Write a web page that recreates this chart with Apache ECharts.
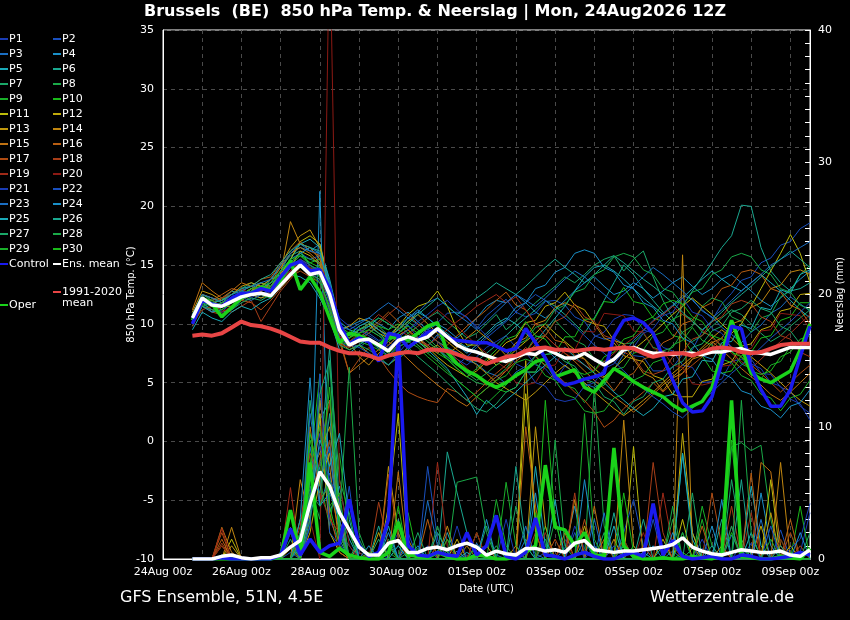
<!DOCTYPE html>
<html><head><meta charset="utf-8">
<script src="https://cdn.jsdelivr.net/npm/echarts@6/dist/echarts.min.js"></script>
<style>html,body{margin:0;padding:0;background:#000;overflow:hidden;}#c{width:850px;height:620px;}</style>
</head><body><div id="c"></div>
<script>
// time steps of the data (6-hourly)
const times = ['24Aug 18z',
'25Aug 00z','25Aug 06z','25Aug 12z','25Aug 18z','26Aug 00z','26Aug 06z','26Aug 12z','26Aug 18z',
'27Aug 00z','27Aug 06z','27Aug 12z','27Aug 18z','28Aug 00z','28Aug 06z','28Aug 12z','28Aug 18z',
'29Aug 00z','29Aug 06z','29Aug 12z','29Aug 18z','30Aug 00z','30Aug 06z','30Aug 12z','30Aug 18z',
'31Aug 00z','31Aug 06z','31Aug 12z','31Aug 18z','01Sep 00z','01Sep 06z','01Sep 12z','01Sep 18z',
'02Sep 00z','02Sep 06z','02Sep 12z','02Sep 18z','03Sep 00z','03Sep 06z','03Sep 12z','03Sep 18z',
'04Sep 00z','04Sep 06z','04Sep 12z','04Sep 18z','05Sep 00z','05Sep 06z','05Sep 12z','05Sep 18z',
'06Sep 00z','06Sep 06z','06Sep 12z','06Sep 18z','07Sep 00z','07Sep 06z','07Sep 12z','07Sep 18z',
'08Sep 00z','08Sep 06z','08Sep 12z','08Sep 18z','09Sep 00z','09Sep 06z','09Sep 12z'];
const leadCats = ['24Aug 00z','24Aug 06z','24Aug 12z'];
const axisCats = leadCats.concat(times);

const memberNames = ['P1','P2','P3','P4','P5','P6','P7','P8','P9','P10','P11','P12','P13','P14','P15','P16','P17','P18','P19','P20','P21','P22','P23','P24','P25','P26','P27','P28','P29','P30'];
const memberColors = ['#1a3cb4','#1a50be','#1a6ec2','#1a90c8','#1aaab8','#1aa890','#1aa868','#1aaa48','#1ab02a','#1aba1a',
'#bcbc0a','#c0aa0a','#c0980e','#c08610','#c07212','#b85e12','#b04c12','#a83e18','#a02a18','#8c1a14',
'#1a3cb4','#1a50be','#1a6ec2','#1a90c8','#1aaab8','#1aa890','#1aa868','#1aaa48','#1ab02a','#1aba1a'];

// 850 hPa temperature (°C)
const tP1=[10.2,12.0,11.5,11.0,11.8,12.5,12.2,12.8,13.0,13.5,14.5,15.5,14.8,13.5,11.0,8.5,
8.0,8.8,9.5,9.0,8.2,9.0,9.5,10.0,9.2,8.5,7.5,7.0,6.5,7.2,8.0,8.5,
9.0,8.0,7.6,6.5,6.2,5.2,6.4,7.3,7.5,8.9,9.3,10.4,10.8,10.7,9.5,9.2,
8.0,7.7,6.5,6.3,5.0,5.1,5.3,6.8,7.0,7.0,5.8,5.7,4.6,4.3,3.0,2.4];
const tP2=[10.8,12.5,12.2,12.0,12.5,13.0,13.2,13.0,13.5,14.0,15.2,16.0,15.5,15.8,13.0,9.8,
9.0,9.5,9.2,8.6,8.7,9.2,9.9,8.8,9.6,10.1,10.9,11.0,10.6,9.6,10.7,11.4,
12.1,11.0,10.6,10.9,11.9,12.0,11.6,10.6,10.2,9.0,8.7,8.8,8.3,7.3,7.2,6.0,
6.0,6.3,7.4,7.8,9.4,10.3,11.7,12.6,13.7,14.0,15.2,15.6,16.7,17.0,18.1,18.6];
const tP3=[9.8,11.5,11.2,11.0,11.2,12.0,12.5,12.2,12.8,13.5,14.8,15.2,14.5,15.0,12.2,9.0,
8.5,8.0,8.6,7.9,7.3,8.1,8.4,8.9,8.1,9.1,7.9,7.6,6.9,6.6,5.9,5.6,
4.9,5.9,6.4,7.3,7.9,7.1,6.4,5.9,4.9,4.6,5.1,6.1,7.4,8.6,9.4,10.3,
10.9,11.6,12.4,12.1,11.1,10.6,9.7,9.1,8.4,9.3,9.9,10.9,11.4,12.3,11.7,11.1];
const tP4=[10.0,11.8,11.0,11.5,12.0,12.2,13.0,13.5,13.2,14.5,16.0,16.5,16.2,16.8,13.5,9.5,
9.8,10.2,10.5,10.0,9.5,10.5,11.0,10.2,9.5,10.0,9.5,8.8,9.5,10.5,11.5,12.0,
11.8,12.5,11.8,11.0,10.5,11.2,12.0,12.8,13.5,14.0,13.2,12.5,12.8,13.5,13.0,12.2,
12.8,13.5,14.0,13.2,12.5,13.0,13.8,14.2,13.5,12.8,12.0,11.5,12.2,13.0,13.8,14.5];
const tP5=[10.5,12.2,11.8,12.0,12.8,12.5,13.0,12.8,13.8,14.2,15.5,16.8,17.2,16.5,13.8,10.2,
9.5,9.2,9.8,10.5,10.0,9.5,10.2,11.0,10.5,9.8,9.2,8.5,8.0,8.5,9.2,10.0,
10.5,10.0,9.2,8.5,9.5,10.5,11.5,12.8,14.0,14.8,15.0,14.5,13.8,13.0,12.2,11.5,
10.8,11.5,12.2,13.0,13.8,14.5,13.8,13.2,12.8,13.5,14.2,13.5,12.8,12.0,11.2,10.5];
const tP6=[10.2,11.8,11.2,11.5,12.0,12.8,12.5,13.2,13.8,14.8,15.8,16.2,15.0,14.0,11.8,9.2,
8.8,9.5,10.0,9.5,9.0,9.8,10.5,10.0,9.2,8.5,8.0,7.5,7.0,6.8,7.5,8.2,
9.0,9.8,10.5,11.2,12.0,11.5,10.8,10.0,9.2,10.5,12.0,13.5,15.0,14.2,13.0,12.0,
11.0,10.2,11.5,12.8,14.0,15.2,16.5,17.5,20.1,20.0,16.5,14.5,13.5,12.8,13.0,13.5];
const tP7=[10.8,12.5,12.0,12.2,12.5,13.0,13.5,13.2,13.0,14.0,15.0,15.8,15.5,15.2,12.5,9.0,
8.2,8.8,9.2,9.8,9.0,8.5,9.2,9.8,10.5,11.0,10.2,9.5,8.8,9.2,10.0,10.8,
9.5,10.2,11.0,11.8,12.5,13.2,14.0,13.5,14.2,15.0,15.5,15.8,14.5,15.5,16.2,14.0,
12.0,10.5,9.2,8.5,9.0,9.8,10.5,11.2,10.8,10.0,9.2,8.5,9.0,9.8,10.5,11.2];
const tP8=[10.0,11.5,11.8,12.2,11.8,12.2,12.8,12.5,12.2,13.2,14.2,15.0,14.2,14.8,12.8,9.5,
8.5,9.0,8.8,8.2,7.8,8.5,9.0,8.2,7.5,8.0,7.0,6.2,5.5,5.0,4.8,5.5,
6.2,7.3,7.6,8.9,9.0,10.3,9.4,8.6,8.2,7.0,6.8,7.0,8.3,8.4,9.2,8.0,
7.7,8.0,9.3,9.8,11.5,12.2,11.9,10.6,10.2,9.3,10.5,10.8,12.3,12.8,14.2,15.0];
const tP9=[10.5,12.0,11.5,11.2,11.8,12.5,12.0,12.5,12.8,13.0,14.0,14.8,14.5,14.0,12.0,8.8,
8.0,8.5,8.2,7.8,7.2,8.0,8.5,8.0,7.2,6.5,5.8,5.2,4.5,3.8,3.2,4.0,
4.8,5.8,6.0,7.3,6.4,5.9,4.8,4.5,3.3,4.4,4.8,6.1,6.3,7.5,7.8,9.0,
9.3,10.4,10.8,10.4,9.3,9.0,8.0,7.7,6.6,6.2,5.3,6.5,6.8,8.1,8.3,9.2];
const tP10=[10.8,12.2,11.8,11.5,12.2,12.8,13.2,13.5,13.2,14.5,15.2,16.0,15.2,15.5,13.2,9.8,
9.2,9.8,10.2,9.8,9.5,10.0,9.2,8.5,8.0,7.5,7.0,6.5,6.0,5.5,5.0,4.5,
4.2,4.6,5.9,5.9,7.4,7.5,8.9,8.9,10.4,10.4,11.9,11.8,13.1,11.9,11.7,10.5,
10.2,9.0,8.8,7.6,7.3,6.0,5.8,6.0,7.3,7.6,8.8,9.0,10.3,10.6,11.8,11.8];
const tP11=[10.5,12.5,12.2,11.8,12.2,12.5,13.0,12.8,13.2,14.2,15.5,17.0,17.5,16.8,13.0,9.2,
8.8,9.5,10.0,9.2,8.8,9.8,10.8,11.5,11.8,12.8,11.5,9.5,8.2,8.2,7.2,6.5,
7.0,7.8,8.5,9.2,10.0,9.2,8.5,7.8,7.0,6.2,5.5,6.2,7.0,7.8,8.5,9.2,
10.0,10.8,11.5,12.2,11.5,10.8,10.0,9.2,10.0,11.5,13.0,14.5,16.0,17.6,16.0,13.5];
const tP12=[10.0,11.8,12.0,11.5,11.5,12.0,12.5,12.2,12.5,13.8,14.8,16.2,15.8,15.0,12.0,8.5,
7.8,8.2,7.5,7.0,6.5,7.2,8.0,8.8,8.0,7.2,6.5,6.0,5.5,6.0,6.8,7.5,
8.4,8.8,10.1,10.3,11.5,11.8,12.7,11.6,11.2,10.0,9.8,8.6,8.3,7.0,6.8,5.6,
5.3,4.0,3.8,3.8,5.1,5.3,6.5,6.8,8.1,8.3,9.5,9.8,11.1,11.3,12.5,12.6];
const tP13=[11.0,12.8,12.5,12.0,12.5,13.2,13.5,13.2,13.8,15.0,16.5,17.5,18.0,16.5,13.0,9.5,
9.8,10.5,10.2,9.5,9.0,9.5,10.2,10.8,10.0,9.2,8.5,7.8,7.2,6.5,5.8,5.0,
4.5,4.0,3.5,4.2,5.0,5.8,6.5,5.8,5.0,4.2,3.5,2.8,2.2,2.8,3.5,4.2,
5.0,5.8,6.5,7.2,8.0,8.8,9.5,8.8,8.0,7.2,6.5,5.8,5.0,4.2,3.5,3.0];
const tP14=[10.2,12.0,11.5,11.8,12.0,12.2,12.8,13.5,13.0,14.2,18.7,16.8,16.5,15.5,12.8,9.2,
8.5,7.2,6.5,7.5,8.2,9.0,9.5,8.5,7.8,8.2,7.5,8.0,8.8,9.5,8.8,8.2,
7.3,8.4,8.8,10.0,10.3,11.4,11.8,11.4,10.3,10.0,8.8,8.4,7.3,7.0,5.8,5.4,
4.3,5.4,5.8,7.0,7.3,8.4,8.8,10.0,10.3,11.4,11.8,13.0,13.3,14.4,14.6,14.2];
const tP15=[11.2,13.5,12.8,12.2,12.8,13.5,13.2,12.8,13.5,14.8,16.0,16.5,16.0,15.2,12.2,8.8,
5.8,6.5,7.2,7.8,8.5,7.8,7.0,6.2,5.5,4.8,4.2,3.5,3.0,3.8,4.5,5.2,
6.0,6.8,7.5,8.2,9.0,8.2,7.5,6.8,6.0,5.2,4.5,3.8,3.2,2.5,3.2,4.0,
4.8,5.5,6.2,7.0,7.8,8.5,7.8,7.0,6.2,5.5,4.8,4.0,3.5,4.2,5.0,5.8];
const tP16=[10.5,12.2,12.0,12.5,13.0,12.8,13.2,13.8,14.0,15.2,16.2,17.0,16.2,15.8,12.5,9.0,
8.2,8.8,9.5,10.2,11.0,10.2,9.5,8.8,8.2,7.5,8.2,9.0,9.8,10.5,11.2,12.0,
12.7,11.6,11.2,10.0,9.7,8.6,8.4,7.3,7.0,5.8,5.4,4.3,5.4,5.8,7.0,7.3,
8.4,8.8,10.0,10.3,11.4,11.8,13.0,13.3,14.4,14.6,14.2,13.0,12.7,11.6,11.2,10.0];
const tP17=[9.8,11.5,11.0,10.8,11.5,12.0,11.8,11.2,12.0,13.0,14.0,14.5,14.0,13.5,11.5,8.5,
5.8,7.0,8.0,7.2,6.0,5.0,4.2,3.8,3.5,3.3,4.5,4.2,3.5,4.2,5.0,5.8,
6.5,7.2,8.0,7.2,6.5,5.8,5.0,4.2,3.5,2.5,1.2,1.8,2.8,3.5,4.2,5.0,
4.2,5.0,5.8,6.5,7.2,8.0,8.8,8.0,7.2,6.5,5.8,5.0,4.2,5.0,5.8,6.5];
const tP18=[10.0,11.2,11.5,11.2,11.0,11.5,12.0,10.2,11.5,12.8,13.8,14.8,14.2,13.8,11.2,8.2,
8.0,8.5,9.2,10.0,10.8,11.5,10.8,10.0,9.2,8.5,7.8,7.0,6.2,5.5,4.8,5.5,
6.0,7.2,7.6,8.7,9.0,10.2,10.6,11.7,10.6,10.2,9.0,8.7,7.6,7.2,6.0,5.7,
6.0,7.2,7.6,8.7,9.0,10.2,10.6,11.7,12.0,11.7,10.6,10.2,9.0,8.7,7.6,7.2];
const tP19=[10.8,12.0,11.8,12.2,12.5,13.0,12.5,12.8,13.2,13.8,14.5,15.2,14.8,14.2,12.0,8.8,
8.5,9.2,10.0,10.8,10.2,9.5,9.0,8.5,8.2,8.8,9.5,10.2,10.8,11.5,12.0,12.5,
11.8,12.3,11.2,10.0,9.0,8.2,7.5,7.0,6.5,6.0,6.8,7.5,8.2,8.8,9.5,10.2,
10.8,11.5,10.8,10.2,9.5,8.8,8.2,7.5,6.8,6.2,7.0,7.8,8.5,9.2,10.0,10.8];
const tP20=[10.2,11.5,11.2,11.0,11.5,12.2,12.8,13.0,12.5,13.5,14.5,15.5,15.0,14.5,12.0,9.0,
8.0,8.5,8.8,8.2,7.5,8.2,9.0,9.8,10.5,11.2,10.5,9.8,9.0,8.2,7.5,6.8,
6.2,5.0,4.8,5.0,6.4,6.5,7.9,7.8,9.4,9.3,10.9,10.8,10.7,9.4,9.3,7.9,
7.7,6.5,6.3,4.9,4.8,5.0,6.4,6.5,7.9,7.9,9.4,9.5,10.9,10.8,10.7,9.6];
const tP21=[10.5,12.0,11.8,11.5,12.2,12.5,12.8,12.5,12.8,14.0,14.8,15.2,14.5,14.8,13.2,10.5,
9.8,9.5,9.0,8.5,8.0,8.8,9.5,10.2,10.8,11.5,12.0,11.2,10.5,9.8,9.0,8.2,
7.7,6.6,6.2,5.0,4.7,3.6,3.4,3.6,4.7,5.0,6.2,6.6,7.7,8.0,9.2,9.6,
10.7,11.0,12.2,11.0,10.7,9.6,9.2,8.0,7.7,6.6,6.2,5.0,4.7,3.6,3.2,1.8];
const tP22=[10.0,11.8,11.5,11.8,12.5,12.2,12.0,12.5,13.0,13.8,15.0,15.5,15.0,14.5,11.8,8.8,
8.2,8.0,7.5,7.0,6.5,7.5,8.5,9.2,8.5,7.8,7.2,6.5,7.2,8.0,8.8,9.5,
10.2,11.0,11.8,12.5,12.0,11.2,10.5,9.8,9.0,8.2,7.5,6.8,6.0,5.2,4.5,3.8,
3.2,2.5,2.0,2.8,3.5,4.2,5.0,5.8,6.5,7.2,8.0,8.8,9.5,10.2,11.0,11.8];
const tP23=[10.8,12.5,12.2,11.8,12.5,12.8,13.2,13.5,13.8,15.0,16.0,16.8,16.2,16.0,13.5,9.8,
9.5,10.0,10.5,11.2,11.8,11.2,10.5,11.0,11.8,12.2,11.5,10.8,10.2,9.5,10.2,11.0,
11.8,12.5,12.0,11.5,12.2,13.0,13.8,14.5,14.0,13.2,12.5,11.8,12.5,13.2,14.0,14.8,
14.2,13.5,12.8,12.0,11.2,10.5,11.2,12.0,12.8,13.5,14.2,15.0,15.5,16.0,16.5,17.0];
const tP24=[10.2,11.5,11.0,11.2,11.8,12.2,12.8,13.0,13.5,14.5,15.5,16.0,16.5,16.0,13.0,9.5,
9.0,9.8,10.2,9.5,8.8,9.5,10.5,11.2,10.5,9.8,9.0,8.2,7.5,8.2,9.0,9.8,
10.3,11.4,11.8,13.0,13.3,14.4,14.8,16.0,16.3,16.0,14.8,14.4,13.3,13.0,11.8,11.4,
10.3,10.0,8.8,8.4,7.3,7.0,5.8,5.4,4.3,4.0,3.0,2.7,2.0,3.0,3.3,4.4];
const tP25=[9.5,11.0,10.5,10.2,11.0,11.5,11.2,11.8,12.2,13.2,14.2,14.0,13.5,12.2,10.5,7.8,
7.5,8.2,8.8,8.2,7.5,7.0,7.8,8.5,7.8,7.0,6.2,5.0,3.8,2.3,3.5,2.8,
3.5,4.2,5.0,5.8,6.5,7.2,8.0,7.2,6.5,5.8,5.0,4.2,3.5,2.8,2.2,2.8,
3.8,4.0,5.3,5.5,6.9,6.8,8.4,8.5,9.9,9.6,11.4,11.2,12.9,12.6,14.2,14.6];
const tP26=[10.5,12.2,11.8,12.0,12.5,13.0,13.2,13.8,14.2,15.2,16.2,16.8,16.5,16.2,13.2,9.5,
9.0,9.5,9.8,9.2,8.5,9.2,10.0,10.8,11.5,12.2,11.5,10.8,11.5,12.2,12.8,13.5,
13.0,12.5,13.2,14.0,14.8,15.5,14.8,14.2,13.5,14.2,15.0,15.8,15.2,14.5,13.8,13.2,
12.5,11.8,11.0,10.2,9.5,10.2,11.0,11.8,12.5,13.2,14.0,14.8,15.5,16.2,15.5,14.8];
const tP27=[10.0,11.5,11.2,10.8,11.2,11.8,12.2,12.0,12.5,13.2,14.2,14.8,14.2,13.8,11.2,8.2,
7.8,8.2,7.8,7.2,6.5,7.2,8.0,7.2,6.5,5.8,5.0,4.2,3.5,2.8,2.5,3.2,
4.2,4.6,5.9,5.9,7.4,7.5,6.8,6.4,5.3,5.0,3.8,3.4,2.3,3.4,3.8,5.0,
5.3,6.4,6.8,8.0,8.3,9.4,9.8,11.0,11.3,12.0,11.3,11.0,9.8,9.4,8.3,8.0];
const tP28=[10.2,12.0,11.8,11.5,12.0,12.8,12.5,13.0,13.2,14.2,15.0,15.8,15.0,14.5,12.5,9.5,
9.0,9.5,10.0,10.5,10.0,9.5,10.2,9.5,8.8,8.0,7.2,6.5,5.8,5.2,5.8,6.5,
7.0,8.2,8.6,9.7,10.0,11.2,11.6,12.7,13.0,14.2,14.6,15.7,16.0,15.7,14.6,14.2,
13.0,12.7,11.6,12.7,13.0,14.2,14.6,15.7,16.0,15.7,14.6,14.2,13.0,12.7,11.6,11.2];
const tP29=[10.8,12.2,12.0,11.2,11.8,12.2,12.8,12.5,12.2,13.5,14.8,15.2,14.2,13.5,11.5,8.5,
8.2,8.8,8.5,8.0,7.5,8.2,9.0,8.2,7.5,6.8,6.0,5.2,4.5,3.8,4.5,5.2,
5.6,6.7,7.0,6.7,5.6,5.2,4.0,3.7,2.6,2.4,2.6,3.7,4.0,5.2,5.6,6.7,
7.0,8.2,8.6,9.7,8.6,8.2,7.0,6.7,5.6,5.2,4.0,3.7,2.6,3.7,4.0,5.2];
const tP30=[10.5,11.8,11.5,11.8,12.2,12.5,13.0,13.2,13.5,14.5,15.5,15.8,15.2,14.8,12.2,9.2,
8.8,9.2,9.5,9.0,8.5,9.2,9.8,9.2,8.5,7.8,7.0,6.2,5.5,6.2,7.0,7.8,
8.7,9.0,10.2,9.0,8.7,7.6,7.2,6.0,5.7,6.0,7.2,7.6,8.7,9.0,10.2,10.6,
11.7,12.0,11.7,10.6,10.2,9.0,8.7,7.6,7.2,6.0,5.7,6.0,7.2,7.6,8.7,9.0];

const tControl=[10.0,12.0,11.7,11.5,12.2,12.6,12.6,13.0,12.8,14.0,15.0,15.3,14.5,14.6,13.0,10.0,
8.3,8.8,8.5,6.8,9.2,9.0,8.0,8.6,9.3,9.5,8.9,8.6,8.5,8.4,8.4,8.1,
7.7,7.9,9.6,8.4,7.1,5.5,4.8,5.0,5.3,5.5,5.8,8.9,10.3,10.5,10.1,9.2,
7.2,5.2,3.3,2.5,2.6,3.8,6.7,9.8,9.6,6.3,4.4,3.0,3.0,4.4,7.2,9.8];
const tOper=[10.3,12.2,11.7,10.6,11.4,12.2,12.6,13.1,12.9,13.7,15.4,12.9,14.0,12.7,10.5,8.4,
9.2,9.0,8.6,8.2,8.8,8.9,8.6,9.2,9.8,10.1,7.6,6.6,6.0,5.6,5.0,4.6,
5.0,5.6,6.1,6.8,7.0,5.5,5.8,6.1,4.6,4.2,5.2,6.2,5.7,5.1,4.6,4.2,
3.8,3.1,2.6,3.0,3.4,4.6,7.5,10.3,8.0,5.8,5.3,5.0,5.5,6.0,7.8,10.0];
const tMean=[10.5,12.2,11.6,11.5,11.9,12.3,12.5,12.6,12.4,13.3,14.2,15.0,14.2,14.4,12.5,9.5,
8.2,8.6,8.7,8.2,7.7,8.6,8.9,8.6,8.9,9.6,8.9,8.2,7.8,7.6,7.3,7.0,
6.8,7.2,7.5,7.4,7.9,7.5,7.1,7.1,7.5,7.0,6.5,7.0,7.8,8.0,7.7,7.5,
7.5,7.4,7.5,7.5,7.4,7.6,7.6,7.8,7.9,7.6,7.5,7.4,7.7,8.0,8.0,8.0];
const tClim=[9.0,9.1,9.0,9.2,9.7,10.2,9.9,9.8,9.6,9.3,8.9,8.5,8.4,8.4,8.0,7.7,
7.5,7.5,7.3,7.0,7.3,7.5,7.6,7.5,7.8,7.8,7.7,7.4,7.1,7.0,6.6,6.9,
7.2,7.3,7.7,7.9,8.0,7.8,7.8,7.7,7.8,7.9,7.8,7.9,8.0,7.9,7.5,7.2,
7.4,7.5,7.5,7.3,7.6,7.9,8.0,7.9,7.6,7.5,7.6,7.9,8.2,8.3,8.3,8.3];

// precipitation (mm)
const rP1=[0,0,0,0,0,0,0,0,0,0,0,1.5,6.0,9.5,3.0,1.2, 0,0,0,0,0.5,2.0,0,0,1.0,0,0,0,0.3,0,0,0, 0,0.5,0,0,0,0,0,2.5,0.8,0,0,0,0,0,0,0, 0,0,0.3,0,0,0,0,0,0,1.2,0,0,0,0,0.5,3.5];
const rP2=[0,0,0,0,0,0,0,0,0,0,0.5,0,3.5,12.0,8.0,2.0, 1.0,0,0,0,0,0,0,0,7.0,1.5,0,0,0,0,0,0, 0,0,0,0,0.5,0,0,0,0,0,0,0,2.0,4.5,1.0,0, 0,0,0,0,0.8,0,0,0,0,0,0,0,2.2,0,0,0];
const rP3=[0,0,0,0,0,0,0,0,0,0,0,2.0,8.5,4.0,6.5,2.5, 0,0.5,0,0,0,0,1.0,0,0,0,0,0,0,1.2,0,0.3, 0,0,1.5,0.4,0,0,0,0,0,3.0,0,0,0,0,0,0, 0,0.6,0,0,0,0,0,1.8,0.4,0,0,0,0,0,0,0];
const rP4=[0,0,0,0.3,0,0,0,0,0,0,0,0,2.5,27.8,3.5,5.5, 2.0,0,0,0,1.2,0,0,0,0,0,0,0.6,0,0,0,0, 0,0,0,0,0,0,0.8,4.0,0,0,0,0,0,0,0,1.0, 0,0,0,0,0,2.5,0,0,0,0,5.0,1.0,0,0,0,0];
const rP5=[0,0,0,0,0,0,0,0,0,0,0,0,4.5,10.5,12.0,3.5, 1.5,0,0,0,2.5,0,0,0,0,0,2.0,0,0,0,0,0, 0,0,0,7.0,1.0,0,0,0,0,0,0,0,0,0,0.5,0, 0,0,8.0,2.0,0,0,0,0,0,5.5,1.0,0,0,0,0,0];
const rP6=[0,0,0,0,0,0,0,0,0,0,0,0.8,3.0,7.0,16.0,4.0, 0,1.0,0,0,0,3.0,0,0,0,0,8.1,5.0,2.0,0,0,0, 0,0,0,0,0,0,0,0,1.5,0,0,3.5,0,0,0,0, 1.0,0,0,0,0,0,3.0,0,0,0,0,0,0,0.5,0,0];
const rP7=[0,0,0,0,0,0,0,0,0,0,1.5,0,12.0,5.5,9.0,2.0, 0,0,0,1.5,0,0,0,0.8,0,0,0,0,0,0,2.5,0, 0,4.0,1.0,0,0,0,0,0,0,0,2.0,0,0,0,0,0, 0,0,0,0.8,0,0,0,6.0,1.5,0,0,0,0,0,0,0];
const rP8=[0,0,0,0,0,0,0,0,0,0,0,0,5.5,3.0,15.0,6.0, 3.5,0,0,0,1.5,0,0,0,0,2.5,0,0,0,0,0,0, 0,0,0,0,0,3.0,0,0,0,13.0,2.5,0,0,0,0,0, 0,3.0,0,0,0,0,0,8.5,8.8,8.2,8.6,3.0,0,0,0,0];
const rP9=[0,0,0,0,0,0,0,0,0,0,2.0,0,9.0,6.0,2.5,8.0, 2.0,0,0,0,0.5,0,0,0,0,0,0,0,0,0,0,4.5, 1.0,0,0,0,2.5,0,0,0,0,0,0,0,0,1.0,0,0, 0,0,0,0,4.0,1.0,0,0,0,0,0,0,1.5,0,0,0];
const rP10=[0,0,0,0,0,0,0,0,0,0,0,1.0,7.0,14.0,4.0,1.0, 0,0,1.0,0,0,0,3.5,0,0,0,0,0,1.0,0,0,0, 0,0,0,0,12.0,3.0,0,0,0,0,0,0,1.5,0,0,0, 0,0,0.5,0,0,0,0,2.0,0,0,0,0,0,0,4.0,0];
const rP11=[0,0,0,0,1.5,0,0,0,0,0,0,3.0,4.0,11.0,2.0,0.5, 0,0,0,0,4.0,11.0,0.5,0,0,0,0,0,0,2.0,0,0, 0,0,12.5,3.0,0,0,0,0,0,0,0,0,0,8.5,0,0, 0,0,3.0,0,0,0,0,0,0,0,0,6.0,0,1.0,0,0];
const rP12=[0,0,0,1.0,0,0,0,0,0,0,0,0,2.0,6.0,8.0,3.0, 0,0,0,2.0,0,0,0,0,0,0,0,1.5,0,0,0,0, 0,0,15.0,2.0,0,0,0,0,2.5,0,0,0,0,0,0,0, 1.5,0,9.5,2.0,0,0,0,0,0,0,2.5,0,0,0,0,0];
const rP13=[0,0,0,0,1.0,0,0,0,0,0,0.8,0,6.5,8.0,10.0,4.0, 0,0,0,0,7.0,2.0,0,0,0,0,0,0,0,0,1.0,0, 0,0,0,10.0,2.5,0,0,0,0,0,0,1.5,0,0,0,0, 0,0,0,0,0,0,1.0,0,0,0,0,3.5,0,0,0,0];
const rP14=[0,0,0,0,2.4,0,0,0,0,0,0,6.0,3.0,12.0,7.0,1.0, 0,0,0,0,0,0,1.5,0,0,0,2.5,0,0,0,0,0, 0,1.0,0,0,0,0,0,4.5,0,0,0,0,10.5,1.0,0,0, 0,0,23.0,1.0,0,0,0,0,0,0,0,0,7.3,0,0,0];
const rP15=[0,0,0,2.4,0.5,0,0,0,0,0,0,0,10.0,4.5,5.5,2.0, 0,1.0,0,0,0,6.6,0,0,0,1.0,0,0,0,0,0,0, 0,0,0,0,0,0,2.0,0,0,4.0,0,0,0,0,0,0, 0,1.5,0,0,0,0,0,0,0,0,7.3,6.6,1.0,0,0,0];
const rP16=[0,0,0,1.5,0,0,0,0,0,0,0,1.5,6.0,10.0,3.5,0.5, 0,0,0.5,0,0,0,0,0,3.0,0,0,0,0,0,0,0, 0,0,10.0,4.0,0,0,0,0,0,0,1.5,0,0,0,0,0, 0,0,0,0,2.5,0,0,0,0,6.5,0,0,0,3.0,0,0];
const rP17=[0,0,0,2.0,0,0,0,0,0,0,1.0,0,4.0,7.5,12.0,2.0, 0,0,0,0,6.4,1.5,0,0,0,0,0,0,1.0,0,0,0, 0,0,0,0,0,1.5,0,0,3.0,0,0,0,0,0,1.0,0, 0,0,0,0,0,5.0,1.0,0,0,0,0,0,0,2.0,0,0];
const rP18=[0,0,0,1.2,0,0,0,0,0,0,0,2.5,8.0,6.0,9.0,3.0, 0,0,0,4.3,1.0,0,0,0,0,0,1.5,0,0,0,0,0, 0,0,0,2.0,0,0,0,5.0,0,0,0,0,0,0,0,7.3, 2.0,0,0,0,0,0,0,4.0,0,0,0,0,0,0,1.0,0];
const rP19=[0,0,0,2.3,0,0,0,0,0,0,5.4,0,7.0,5.0,3.0,2.0, 0,0.5,0,0,0,0,0,0,0,7.3,1.0,0,0,0,0,0, 0,0,0,0,2.0,0,0,0,0,0,0,0,1.5,0,0,0, 5.0,1.0,0,0,0,0,0,0,0,3.5,0,0,0,0,0,0];
const rP20=[0,0,0,1.0,0,0,0,0,0,0,0,0,3.0,0,48.0,6.0, 1.0,0,0,0,0,0,0,0.5,0,0,0,0,0,2.0,0,0, 0,0,0,0,0,0,1.5,0,0,0,0,0,0,0,2.0,0, 0,0,0,0,0,0,0,2.5,0,0,0,0,1.5,0,0,0];
const rP21=[0,0,0,0,0,0,0,0,0,0,0,1.0,5.0,8.5,6.0,4.5, 0,0,0,0.5,0,0,0,0,0,0,0,2.5,0,0,0,0, 3.0,0,0,0,0,0,0,0,0,1.0,0,0,0,0,0,0, 0,0,0,0,1.5,0,0,0,0,0,0,0,0,0.8,1.5,4.2];
const rP22=[0,0,0,0,0,0,0,0,0,0,0,0,2.5,14.0,2.0,1.0, 5.5,0,0,0,0,0,2.0,0,0,0,0,0,0,0.5,0,0, 0,0,0,0,0,0,0,2.0,0,0,0,1.0,0,0,0,3.0, 0,0,0,0,0,0,0,0,1.0,0,0,2.5,0,0,0,0];
const rP23=[0,0,0,0,0,0,0,0,0,0,2.4,0,11.0,6.0,8.5,2.0, 0,0,1.0,0,0,0,0,0,4.4,1.0,0,0,0,0,0,0, 0,0,2.5,0,0,0,0,0,0,0,3.5,0,0,0,0,0, 0,0,2.0,0,0,0,0,0,0,0,3.0,0,0,0,0,0];
const rP24=[0,0,0,0,0,0,0,0,0,0,0,3.0,13.7,4.0,5.0,3.0, 0,0,0,0,2.0,0,0,1.0,0,0,0,0,0,0,3.0,0, 0,0,0,5.0,0,0,0,0,6.0,1.0,0,0,0,0,0,0, 0,2.0,0,0,0,0,4.5,0,0,0,0,0,0,0,2.0,0];
const rP25=[0,0,0,0,0,0,0,0,0,0,0,0,4.0,9.0,7.0,9.5, 3.0,0,0,0,0,1.0,0,0,0,0,0,0,0.5,0,0,0, 0,0,0,0,0,4.5,0,0,0,0,0,2.5,0,0,0,0, 0,0,8.0,1.5,0,0,0,0,0,2.0,0,0,0,0,0,0];
const rP26=[0,0,0,0,0,0,0,0,0,0,0,1.2,6.0,5.0,11.0,1.5, 0,0,0,2.5,0,0,0,0,0,2.0,0.5,0,0,0,0,0, 0,7.0,1.0,0,0,0,0,0,0,0,0,0,0,0,3.0,0, 0,0,0,0,0,1.0,0,0,6.0,0,0,0,1.0,0,0,0];
const rP27=[0,0,0,0,0,0,0,0,0,0,0,0,3.0,12.5,15.0,2.5, 0,1.5,0,0,0,0,0,2.0,0,0,0,0,0,0,0,1.0, 0,0,0,0,1.5,0,0,0,0,0,0,0,1.0,0,0,0, 0,0,0,5.0,0,0,0,2.5,0,0,0,0,0,0,0,2.0];
const rP28=[0,0,0,0,0,0,0,0,0,0,1.0,0,5.0,4.0,6.0,3.0, 14.5,2.0,0,0,0,0,0.5,0,0,0,0,5.8,6.0,6.2,2.0,0, 0,0,0,0,0,9.0,1.0,0,0,0,0,0,0,0,0,0, 0,4.0,0,0,0,0,0,0,12.0,2.0,0,0,0,0,0,0];
const rP29=[0,0,0,0,0,0,0,0,0,0,0,2.0,7.0,10.0,4.0,5.0, 0,0,0,0,1.0,0,0,0,0,0,1.5,0,0,0,0,0, 5.8,1.0,0,0,0,0,0,0,11.0,1.5,0,0,0,0,0,0, 0,0,0,0,3.0,0,0,0,0,0,0,1.5,0,0,0,0];
const rP30=[0,0,0,0,0,0,0,0,0,0,0,0,9.5,6.0,13.0,2.0, 0,0,0.5,0,0,4.0,0,0,0,0,0,0,0,1.0,0,0, 0,0,0,3.5,0,0,0,0,0,0,0,0,5.0,0.5,0,0, 0,0,2.0,0,0,0,0,9.0,1.0,0,0,0,0,0,0,0];

const rControl=[0,0,0,0.1,0,0,0,0,0,0.3,2.3,0.3,1.5,0.5,1.0,1.2, 4.5,1.0,0.2,0.5,3.0,17.0,1.0,0.3,0.2,0.5,0.3,0.2,2.0,0.3,1.0,3.3, 0.2,0,0.5,3.1,0.3,0.2,0,0.3,0.5,0.2,0,0,0.3,0.5,0.2,4.2, 0.3,1.4,0.2,0,0.1,0.2,0,0,0.3,0.2,0,0,0.1,0.2,0.5,0.3];
const rOper=[0,0,0,0,0,0,0,0,0,0.2,3.7,0.3,7.3,0.5,0.2,0.8, 0.3,0.1,0,0,0.5,2.8,0.3,0.2,0.1,0.5,0.2,0,0,0.3,0.2,0, 0,0.2,0.5,1.0,7.1,2.4,2.2,1.0,2.0,0.3,0.2,8.4,1.0,0.2,0,0, 0.1,0,0,0.2,0.1,0,0.3,12.0,0.2,0.1,0,0,0.2,0.1,0,0.8];
const rMean=[0,0,0,0.2,0.3,0.1,0,0.1,0.1,0.3,0.9,1.4,4.2,6.6,5.5,3.5, 2.2,0.9,0.3,0.3,1.2,1.4,0.5,0.5,0.8,0.9,0.7,1.0,1.2,0.9,0.3,0.6, 0.4,0.3,0.8,0.8,0.6,0.7,0.5,1.2,1.4,0.7,0.6,0.5,0.6,0.6,0.7,0.8, 0.9,1.1,1.6,0.9,0.6,0.4,0.3,0.5,0.7,0.6,0.5,0.5,0.6,0.3,0.2,0.7];

const memberT=[tP1,tP2,tP3,tP4,tP5,tP6,tP7,tP8,tP9,tP10,tP11,tP12,tP13,tP14,tP15,tP16,tP17,tP18,tP19,tP20,tP21,tP22,tP23,tP24,tP25,tP26,tP27,tP28,tP29,tP30];
const memberR=[rP1,rP2,rP3,rP4,rP5,rP6,rP7,rP8,rP9,rP10,rP11,rP12,rP13,rP14,rP15,rP16,rP17,rP18,rP19,rP20,rP21,rP22,rP23,rP24,rP25,rP26,rP27,rP28,rP29,rP30];

const FONT='DejaVu Sans';
const pairs = arr => times.map((t,k)=>[t, arr[k]]);
function line(name, arr, color, width, axis, z){
  return {name, type:'line', yAxisIndex:axis, data:pairs(arr), showSymbol:false, symbol:'none',
    lineStyle:{color, width}, itemStyle:{color}, z:z||2, silent:true, clip:true};
}
const series=[];
memberNames.forEach((n,i)=>{
  series.push(line(n, memberT[i], memberColors[i], 1, 0, 2));
  series.push(line(n, memberR[i], memberColors[i], 1, 1, 2));
});
series.push(line('Oper', tOper, '#1ad21a', 3.5, 0, 3));
series.push(line('Oper', rOper, '#1ad21a', 3.5, 1, 3));
series.push(line('Control', tControl, '#1a1af0', 3.5, 0, 4));
series.push(line('Control', rControl, '#1a1af0', 3.5, 1, 4));
series.push(line('Ens. mean', tMean, '#ffffff', 3.5, 0, 5));
series.push(line('Ens. mean', rMean, '#ffffff', 3.5, 1, 5));
series.push(line('1991-2020 mean', tClim, '#e84545', 4, 0, 6));

// legend drawn as graphic
const graphic=[];
function legItem(x, y, color, text){
  graphic.push({type:'line', shape:{x1:x, y1:y, x2:x+8, y2:y}, style:{stroke:color, lineWidth:2}, silent:true});
  graphic.push({type:'text', x:x+9, y:y, style:{text, fill:'#fff', font:'11px '+FONT, verticalAlign:'middle', textAlign:'left'}, silent:true});
}
for(let k=0;k<15;k++){
  legItem(0, 39+15*k, memberColors[2*k], memberNames[2*k]);
  legItem(53, 39+15*k, memberColors[2*k+1], memberNames[2*k+1]);
}
legItem(0, 264, '#1a1af0', 'Control');
legItem(53, 264, '#ffffff', 'Ens. mean');
legItem(53, 292, '#e84545', '1991-2020');
graphic.push({type:'text', x:62, y:303, style:{text:'mean', fill:'#fff', font:'11px '+FONT, verticalAlign:'middle'}, silent:true});
legItem(0, 305, '#1ad21a', 'Oper');
graphic.push({type:'text', x:144, y:12, style:{text:'Brussels  (BE)  850 hPa Temp. & Neerslag | Mon, 24Aug2026 12Z', fill:'#fff', font:'bold 16px '+FONT, verticalAlign:'middle'}, silent:true});
graphic.push({type:'text', x:120, y:598, style:{text:'GFS Ensemble, 51N, 4.5E', fill:'#fff', font:'16px '+FONT, verticalAlign:'middle'}, silent:true});
graphic.push({type:'text', x:650, y:598, style:{text:'Wetterzentrale.de', fill:'#fff', font:'16px '+FONT, verticalAlign:'middle'}, silent:true});

const chart = echarts.init(document.getElementById('c'));
chart.setOption({
  backgroundColor:'#000',
  animation:false,
  textStyle:{fontFamily:FONT},
  grid:{left:163, top:30, width:647, height:529, show:true, borderColor:'#fff', borderWidth:1, containLabel:false, outerBoundsMode:'none'},
  xAxis:{type:'category', data:axisCats, boundaryGap:false,
    axisLine:{show:true, onZero:false, lineStyle:{color:'#fff'}}, axisTick:{show:false},
    axisLabel:{color:'#fff', fontSize:11, fontFamily:FONT, margin:8, interval:(i)=>i%8===0},
    splitLine:{show:true, interval:(i)=>i%4===0, lineStyle:{color:'#4a4a4a', type:[4,4]}},
    name:'Date (UTC)', nameLocation:'middle', nameGap:25, nameMoveOverlap:false,
    nameTextStyle:{color:'#fff', fontSize:10, fontFamily:FONT}},
  yAxis:[
    {type:'value', min:-10, max:35, interval:5, position:'left',
     axisLine:{show:true, onZero:false, lineStyle:{color:'#fff'}}, axisTick:{show:false},
     axisLabel:{color:'#fff', fontSize:11, fontFamily:FONT, margin:9},
     splitLine:{show:true, lineStyle:{color:'#4a4a4a', type:[4,4]}},
     name:'850 hPa Temp. (°C)', nameLocation:'middle', nameGap:27, nameRotate:90, nameMoveOverlap:false,
     nameTextStyle:{color:'#fff', fontSize:10, fontFamily:FONT}},
    {type:'value', min:0, max:40, interval:10, position:'right',
     axisLine:{show:true, onZero:false, lineStyle:{color:'#fff'}},
     axisTick:{show:true, inside:true, length:5, lineStyle:{color:'#fff'}},
     minorTick:{show:true, splitNumber:10, length:5, lineStyle:{color:'#fff'}},
     axisLabel:{color:'#fff', fontSize:11, fontFamily:FONT, margin:8},
     splitLine:{show:false},
     name:'Neerslag (mm)', nameLocation:'middle', nameGap:25, nameRotate:90, nameMoveOverlap:false,
     nameTextStyle:{color:'#fff', fontSize:10, fontFamily:FONT}}
  ],
  graphic:graphic,
  series:series
});
</script></body></html>
